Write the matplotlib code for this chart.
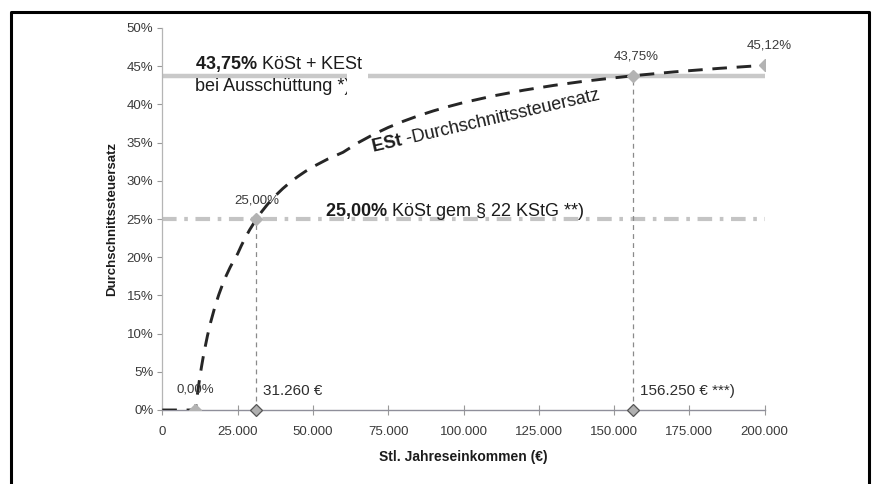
import matplotlib
matplotlib.use("Agg")
import matplotlib.pyplot as plt
from matplotlib.patches import Rectangle

plt.rcParams['font.family'] = ['Liberation Sans', 'DejaVu Sans']
plt.rcParams['mathtext.fontset'] = 'custom'
plt.rcParams['mathtext.rm'] = 'Liberation Sans'
plt.rcParams['mathtext.bf'] = 'Liberation Sans:bold'
plt.rcParams['mathtext.it'] = 'Liberation Sans:italic'
plt.rcParams['lines.scale_dashes'] = False

# Average income tax rate (ESt) by taxable annual income
income = [0, 11000, 11500, 12000, 12500, 13000, 13500, 14000, 15000, 16000,
          17500, 18750, 20000, 21250, 22500, 23750, 25000, 26250, 27500,
          29000, 31260, 33000, 35000, 37500, 40000, 42500, 45000, 47500,
          50000, 55000, 60000, 65000, 70000, 75000, 80000, 85000, 90000,
          95000, 100000, 110000, 120000, 130000, 140000, 156250, 170000,
          185000, 200000]
avg_rate = [0.00, 0.00, 1.59, 3.04, 4.38, 5.62, 6.76, 7.82, 9.73, 11.41,
            13.56, 15.09, 16.43, 17.61, 18.66, 19.59, 20.44, 21.52, 22.51,
            23.58, 25.00, 25.96, 26.95, 28.03, 28.98, 29.82, 30.56, 31.23,
            31.83, 32.86, 33.73, 34.98, 36.05, 36.98, 37.79, 38.51, 39.15,
            39.72, 40.24, 41.12, 41.86, 42.49, 43.03, 43.75, 44.26,
            44.72, 45.12]

# Highlighted points on the curve
key_income = [11000, 31260, 156250, 200000]
key_rate = [0.00, 25.00, 43.75, 45.12]
key_labels = ["0,00%", "25,00%", "43,75%", "45,12%"]

# Break-even incomes marked on the x axis
breakeven_income = [31260, 156250]
breakeven_rate = [25.00, 43.75]
breakeven_labels = ["31.260 €", "156.250 € ***)"]

# Corporate tax reference levels
koest_kest = 43.75
koest = 25.00

x_ticks = [0, 25000, 50000, 75000, 100000, 125000, 150000, 175000, 200000]
x_tick_labels = ["0", "25.000", "50.000", "75.000", "100.000", "125.000",
                 "150.000", "175.000", "200.000"]
y_ticks = [0, 5, 10, 15, 20, 25, 30, 35, 40, 45, 50]
y_tick_labels = ["0%", "5%", "10%", "15%", "20%", "25%", "30%", "35%",
                 "40%", "45%", "50%"]

fig = plt.figure(figsize=(8.73, 4.84), dpi=100)
fig.patch.set_facecolor("white")

# Frame around the whole figure (open at the bottom)
W, H = 873, 484
frame_x = [10.5 / W, 10.5 / W, 868.5 / W, 868.5 / W]
frame_y = [-0.05, 1 - 12 / H, 1 - 12 / H, -0.05]
fig.add_artist(plt.Line2D(frame_x, frame_y, color="black", lw=2.2,
                          transform=fig.transFigure, clip_on=False))

ax = fig.add_axes([162.3 / W, 74 / H, 602.4 / W, 382 / H])
ax.set_xlim(0, 200000)
ax.set_ylim(0, 50)
ax.set_facecolor("none")

# Reference lines
ax.plot([0, 200000], [koest_kest, koest_kest], color="#c9c9c9", lw=3.2,
        solid_capstyle="butt", zorder=2)
ax.plot([0, 200000], [koest, koest], color="#c4c4c4", lw=3.0,
        dashes=(10.5, 5.5, 2.6, 5.5), zorder=2)

# Drop lines from the break-even points
for xv, yv in zip(breakeven_income, breakeven_rate):
    ax.plot([xv, xv], [0, yv], color="#8a8a8a", lw=0.9, dashes=(3.5, 3),
            zorder=2)

# Average tax rate curve
ax.plot(income, avg_rate, color="#262626", lw=2.1, dashes=(10.5, 7),
        zorder=4)

# Markers
ax.plot(key_income, key_rate, ls="none", marker="D", ms=6,
        mfc="#b3b3b3", mec="#b3b3b3", zorder=5)
ax.plot(breakeven_income, [0, 0], ls="none", marker="D", ms=6,
        mfc="#b0b0b0", mec="#555555", mew=0.9, zorder=6, clip_on=False)

# Point labels
offsets = [(0, 14.4), (0, 13), (2, 14), (3, 14)]
for xv, yv, lab, off in zip(key_income, key_rate, key_labels, offsets):
    ax.annotate(lab, (xv, yv), xytext=off, textcoords="offset points",
                ha="center", va="center", fontsize=9.5, color="#3a3a3a",
                zorder=7)
for xv, lab in zip(breakeven_income, breakeven_labels):
    ax.annotate(lab, (xv, 0), xytext=(5, 14), textcoords="offset points",
                ha="left", va="center", fontsize=11, color="#2e2e2e")

# Descriptive texts
ax.text(11000, 45.3, r"$\mathbf{43{,}75\%}$ KöSt + KESt", fontsize=13,
        color="#1c1c1c", ha="left", va="center", zorder=7)
ax.text(11000, 42.3, "bei Ausschüttung *)", fontsize=13,
        color="#1c1c1c", ha="left", va="center", zorder=7)
ax.add_patch(Rectangle((61300, 41.3), 7000, 3.3, facecolor="white",
                       edgecolor="none", zorder=8))
ax.text(54000, 25.95, r"$\mathbf{25{,}00\%}$ KöSt gem § 22 KStG **)",
        fontsize=13, color="#1c1c1c", ha="left", va="center", zorder=7)
ax.text(69600, 34.3, r"$\mathbf{ESt}$ -Durchschnittssteuersatz", fontsize=13,
        color="#1c1c1c", ha="left", va="center", rotation=13,
        rotation_mode="anchor", zorder=7)

# Axes styling
for side in ("top", "right"):
    ax.spines[side].set_visible(False)
ax.spines["left"].set_color("#b5b5b5")
ax.spines["left"].set_linewidth(0.9)
ax.spines["bottom"].set_color("#8f8f9a")
ax.spines["bottom"].set_linewidth(1.0)

ax.set_xticks(x_ticks)
ax.set_xticklabels(x_tick_labels)
ax.set_yticks(y_ticks)
ax.set_yticklabels(y_tick_labels)
ax.tick_params(axis="x", direction="inout", length=7, width=0.8,
               color="#999999", labelsize=9.5, labelcolor="#3a3a3a", pad=8)
ax.tick_params(axis="y", direction="out", length=3.5, width=0.8,
               color="#999999", labelsize=9.5, labelcolor="#3a3a3a", pad=3)

ax.set_xlabel("Stl. Jahreseinkommen (€)", fontsize=10, fontweight="bold",
              color="#1c1c1c", labelpad=9)
ax.set_ylabel("Durchschnittssteuersatz", fontsize=9.5, fontweight="bold",
              color="#1c1c1c", labelpad=6)

fig.savefig("out.png", dpi=100, facecolor="white")
